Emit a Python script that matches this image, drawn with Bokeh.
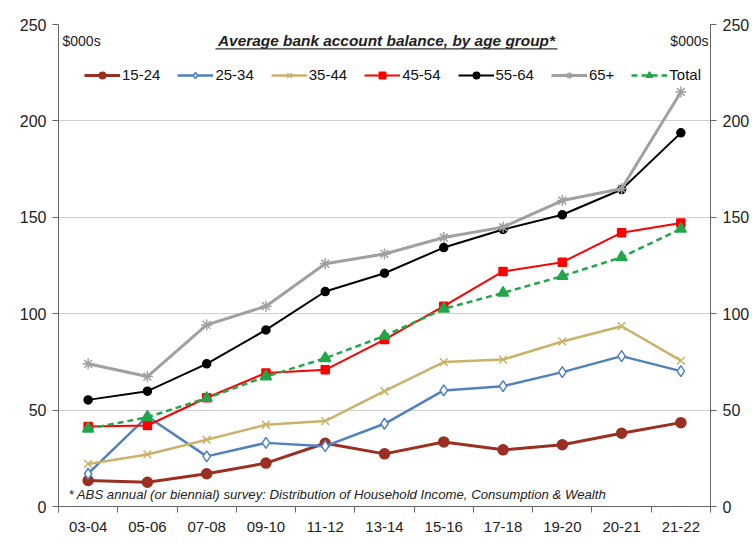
from bokeh.plotting import figure
from bokeh.models import (LinearAxis, FixedTicker, Range1d, Label, Legend,
                          BoxAnnotation)
from bokeh.embed import file_html
from bokeh.resources import INLINE

categories = ["03-04", "05-06", "07-08", "09-10", "11-12", "13-14",
              "15-16", "17-18", "19-20", "20-21", "21-22"]
age_15_24 = [13.5, 12.6, 17.0, 22.5, 32.8, 27.3, 33.5, 29.4, 32.0, 38.0, 43.5]
age_25_34 = [17.0, 46.7, 26.0, 33.0, 31.3, 42.9, 60.2, 62.4, 69.7, 78.0, 70.2]
age_35_44 = [22.1, 27.0, 34.6, 42.4, 44.3, 59.8, 74.9, 76.2, 85.6, 93.5, 75.7]
age_45_54 = [41.5, 42.0, 56.4, 69.3, 70.9, 86.6, 103.9, 121.9, 126.7, 142.0, 147.0]
age_55_64 = [55.3, 59.8, 74.0, 91.6, 111.5, 121.0, 134.3, 143.7, 151.3, 164.4, 193.8]
age_65_plus = [74.0, 67.4, 94.2, 103.9, 125.9, 131.0, 139.5, 144.9, 158.7, 164.8, 215.0]
total = [40.3, 46.3, 56.2, 67.4, 76.9, 88.5, 102.5, 110.8, 119.5, 129.3, 144.0]
y_ticks = [0, 50, 100, 150, 200, 250]

FONT = "Liberation Sans"

xs = list(range(len(categories)))

p = figure(width=752, height=554, output_backend="svg", toolbar_location=None,
           x_range=Range1d(-0.5, len(categories) - 0.5),
           y_range=Range1d(0, 250),
           min_border_left=58, min_border_right=41, min_border_top=24,
           min_border_bottom=48)
p.outline_line_color = None
p.background_fill_color = "white"
p.border_fill_color = "white"

# x axis: labels at centres, ticks at boundaries
xt = FixedTicker(ticks=xs, minor_ticks=[i - 0.5 for i in range(len(categories) + 1)])
p.xaxis.ticker = xt
p.xaxis.major_label_overrides = {i: c for i, c in enumerate(categories)}
p.xaxis.major_tick_out = 0
p.xaxis.major_tick_in = 0
p.xaxis.minor_tick_out = 6
p.xaxis.minor_tick_in = 0
p.xaxis.minor_tick_line_color = "#666666"
p.xaxis.axis_line_color = "#666666"
p.xaxis.major_label_text_font = FONT
p.xaxis.major_label_text_font_size = "15px"
p.xaxis.major_label_text_color = "#222222"
p.xaxis.major_label_standoff = 9
p.xgrid.grid_line_color = None

def style_y(ax):
    ax.ticker = FixedTicker(ticks=y_ticks)
    ax.major_tick_out = 6
    ax.major_tick_in = 0
    ax.minor_tick_line_color = None
    ax.axis_line_color = "#666666"
    ax.major_tick_line_color = "#666666"
    ax.major_label_text_font = FONT
    ax.major_label_text_font_size = "16px"
    ax.major_label_text_color = "#222222"
    ax.major_label_standoff = 6

style_y(p.yaxis[0])
ry = LinearAxis()
style_y(ry)
p.add_layout(ry, "right")
p.ygrid.ticker = FixedTicker(ticks=y_ticks)
p.ygrid.grid_line_color = "#cfcfcf"
p.ygrid.grid_line_width = 1

series = [
    ("15-24", age_15_24, "#9a2f22", 3, "circle", 10, "#9a2f22", None),
    ("25-34", age_25_34, "#4f81bd", 2.5, "diamond", 11, "white", None),
    ("35-44", age_35_44, "#cbb26b", 2.5, "x", 11, "#cbb26b", None),
    ("45-54", age_45_54, "#ff0000", 2, "square", 8, "#ff0000", None),
    ("55-64", age_55_64, "#000000", 2, "circle", 8, "#000000", None),
    ("65+", age_65_plus, "#a0a0a0", 3, "asterisk", 11, "#a0a0a0", None),
    ("Total", total, "#22a64a", 2.5, "triangle", 11, "#22a64a", "6 4"),
]

items = []
for name, vals, col, lw, mk, sz, fill, dash in series:
    kw = {}
    if dash:
        kw["line_dash"] = dash
    r1 = p.line(xs, vals, line_color=col, line_width=lw, **kw)
    r2 = p.scatter(xs, vals, marker=mk, size=sz, line_color=col,
                   fill_color=fill, line_width=1.5)
    items.append((name, [r1, r2]))

legend = Legend(items=items, orientation="horizontal", location=(26, 423),
                label_text_font=FONT, label_text_font_size="15px",
                label_text_color="#111111",
                glyph_width=36, glyph_height=16, label_standoff=2, spacing=17,
                padding=0, margin=0, border_line_color=None,
                background_fill_alpha=0)
p.add_layout(legend, "center")

p.add_layout(Label(x=4, y=466, x_units="screen", y_units="screen",
                   text="$000s", text_font=FONT, text_font_size="14px",
                   text_color="#222222", text_baseline="middle"))
p.add_layout(Label(x=650, y=466, x_units="screen", y_units="screen",
                   text="$000s", text_font=FONT, text_font_size="14px",
                   text_color="#222222", text_baseline="middle",
                   text_align="right"))
p.add_layout(Label(x=328, y=466, x_units="screen", y_units="screen",
                   text="Average bank account balance, by age group*",
                   text_font=FONT, text_font_size="15.4px",
                   text_font_style="bold italic",
                   text_color="#222222", text_baseline="middle",
                   text_align="center"))
p.add_layout(BoxAnnotation(left=157, right=499, bottom=457, top=458.2,
                           left_units="screen", right_units="screen",
                           top_units="screen", bottom_units="screen",
                           fill_color="#333333", fill_alpha=1,
                           line_color=None))
p.add_layout(Label(x=10, y=12, x_units="screen", y_units="screen",
                   text="* ABS annual (or biennial) survey: Distribution of Household Income, Consumption & Wealth",
                   text_font=FONT, text_font_size="13.2px",
                   text_font_style="italic",
                   text_color="#222222", text_baseline="middle"))

open("out.html", "w").write(file_html(p, INLINE))
